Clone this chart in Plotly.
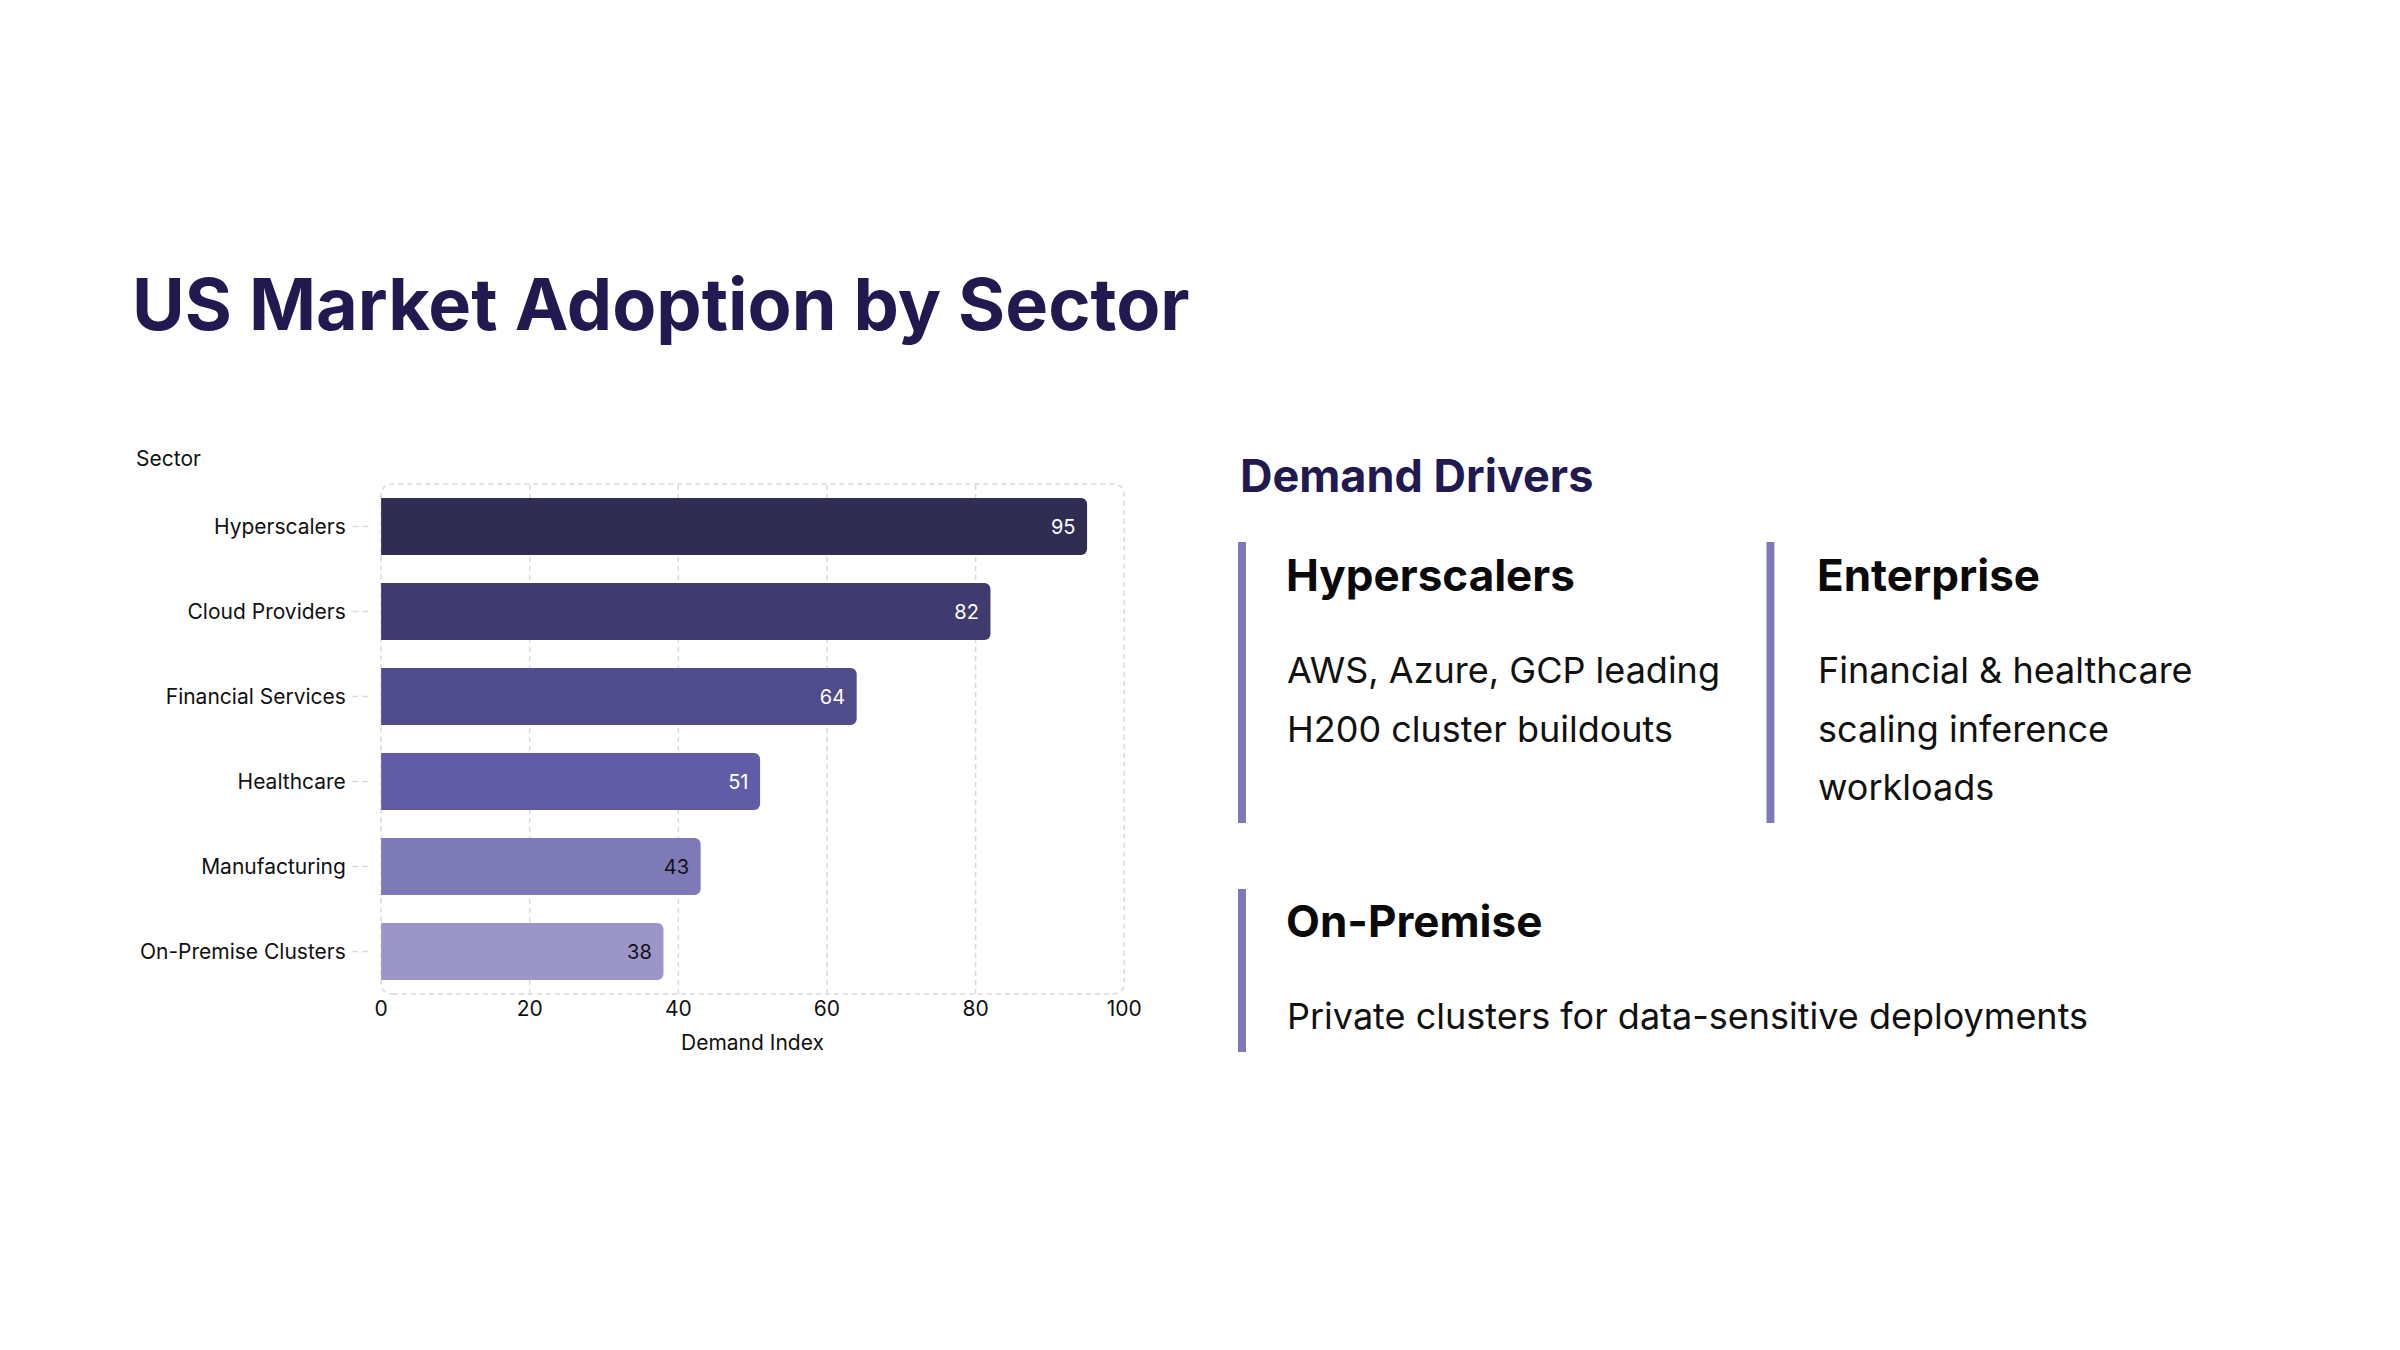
import plotly.graph_objects as go

# ---------------- data ----------------
sectors = ["Hyperscalers", "Cloud Providers", "Financial Services",
           "Healthcare", "Manufacturing", "On-Premise Clusters"]
demand_index = [95, 82, 64, 51, 43, 38]
bar_colors = ["#302d52", "#403b6e", "#504b8b", "#625ca7", "#7e79b7", "#9b96c7"]
label_colors = ["#ffffff", "#ffffff", "#ffffff", "#ffffff", "#111111", "#111111"]
x_ticks = [0, 20, 40, 60, 80, 100]

title_text = "US Market Adoption by Sector"
panel_title = "Demand Drivers"
driver_heads = ["Hyperscalers", "Enterprise", "On-Premise"]
driver_lines = [
    ["AWS, Azure, GCP leading", "H200 cluster buildouts"],
    ["Financial & healthcare", "scaling inference", "workloads"],
    ["Private clusters for data-sensitive deployments"],
]

# ---------------- layout helpers ----------------
W, H = 2400, 1350
FONT = "Inter"
NAVY = "#21194f"
ACCENT = "#7d78b8"
GRID = "#d9d9d9"


def px(x):
    return x / W


def py(y):
    return 1 - y / H


PL, PR, PT, PB = 378, 1129, 484, 994
x_dom = [px(PL), px(PR)]
y_dom = [py(PB), py(PT)]

fig = go.Figure()
fig.add_trace(go.Bar(
    x=demand_index, y=sectors, orientation="h",
    marker=dict(color=bar_colors, line=dict(width=0), cornerradius=6),
    texttemplate="%{x}\u00a0",
    textposition="inside",
    insidetextanchor="end",
    textangle=0,
    textfont=dict(family=FONT, size=20, color=label_colors),
    hoverinfo="skip", width=0.67,
))

fig.update_layout(
    width=W, height=H,
    margin=dict(l=0, r=0, t=0, b=0),
    paper_bgcolor="white",
    plot_bgcolor="white",
    showlegend=False,
    font=dict(family=FONT, color="#111111"),
    xaxis=dict(
        domain=x_dom, range=[0, 100], tickvals=x_ticks,
        showgrid=False, zeroline=False, showline=False,
        ticks="", tickfont=dict(size=21, color="#111111"),
        fixedrange=True,
    ),
    yaxis=dict(
        domain=y_dom, autorange="reversed", showgrid=False, zeroline=False,
        showline=False, ticks="outside", ticklen=30, tickcolor="rgba(0,0,0,0)",
        tickfont=dict(size=21, color="#111111"), fixedrange=True,
    ),
)

pw, ph = PR - PL, PB - PT
shapes = []
# interior dashed grid lines
for t in x_ticks[1:-1]:
    shapes.append(dict(type="line", xref="x", yref="y domain", x0=t, x1=t,
                       y0=0, y1=1, line=dict(color=GRID, width=1.5, dash="5px,4px"),
                       layer="below"))
# rounded dashed plot border
rx, ry = 12 / pw, 12 / ph
path = (f"M {rx},0 L {1-rx},0 Q 1,0 1,{ry} L 1,{1-ry} Q 1,1 {1-rx},1 "
        f"L {rx},1 Q 0,1 0,{1-ry} L 0,{ry} Q 0,0 {rx},0 Z")
shapes.append(dict(type="path", xref="x domain", yref="y domain", path=path,
                   line=dict(color=GRID, width=1.5, dash="5px,4px"), layer="below"))
# dashed tick stubs on the category axis
for s in sectors:
    shapes.append(dict(type="line", xref="x domain", yref="y",
                       x0=(349 - PL) / pw, x1=(365 - PL) / pw,
                       y0=s, y1=s, line=dict(color=GRID, width=1.5, dash="6px,4px"),
                       layer="below"))
# accent bars of the driver panel
for (x, y0, y1) in [(1248, 542, 823), (1782, 542, 823), (1248, 889, 1052)]:
    shapes.append(dict(type="rect", xref="paper", yref="paper",
                       x0=px(x - 4), x1=px(x + 4), y0=py(y1), y1=py(y0),
                       fillcolor=ACCENT, line=dict(width=0)))
fig.update_layout(shapes=shapes)

ann = []
ann.append(dict(text=f"<b>{title_text}</b>", x=px(124), y=py(304), xref="paper",
                yref="paper", xanchor="left", yanchor="middle", showarrow=False,
                font=dict(family=FONT, size=72, color=NAVY)))
ann.append(dict(text="Sector", x=px(128), y=py(458), xref="paper", yref="paper",
                xanchor="left", yanchor="middle", showarrow=False,
                font=dict(family=FONT, size=21, color="#111111")))
ann.append(dict(text="Demand Index", x=0.5, y=py(1042), xref="x domain",
                yref="paper", xanchor="center", yanchor="middle", showarrow=False,
                font=dict(family=FONT, size=21, color="#111111")))
ann.append(dict(text=f"<b>{panel_title}</b>", x=px(1244), y=py(475), xref="paper",
                yref="paper", xanchor="left", yanchor="middle", showarrow=False,
                font=dict(family=FONT, size=45, color=NAVY)))

head_pos = [(1290, 575), (1827, 575), (1290, 921)]
line_gap = 58.5
for head, lines, (hx, hy) in zip(driver_heads, driver_lines, head_pos):
    ann.append(dict(text=f"<b>{head}</b>", x=px(hx), y=py(hy), xref="paper",
                    yref="paper", xanchor="left", yanchor="middle",
                    showarrow=False,
                    font=dict(family=FONT, size=44, color="#0a0a0a")))
    for i, ln in enumerate(lines):
        ann.append(dict(text=ln, x=px(hx + 1), y=py(hy + 95 + i * line_gap),
                        xref="paper", yref="paper", xanchor="left",
                        yanchor="middle", showarrow=False,
                        font=dict(family=FONT, size=36, color="#111111")))
fig.update_layout(annotations=ann)

fig.write_html("out.html",
               config={"displayModeBar": False},
               post_script="document.body.style.margin='0';"
                           "document.body.style.overflow='hidden';")
